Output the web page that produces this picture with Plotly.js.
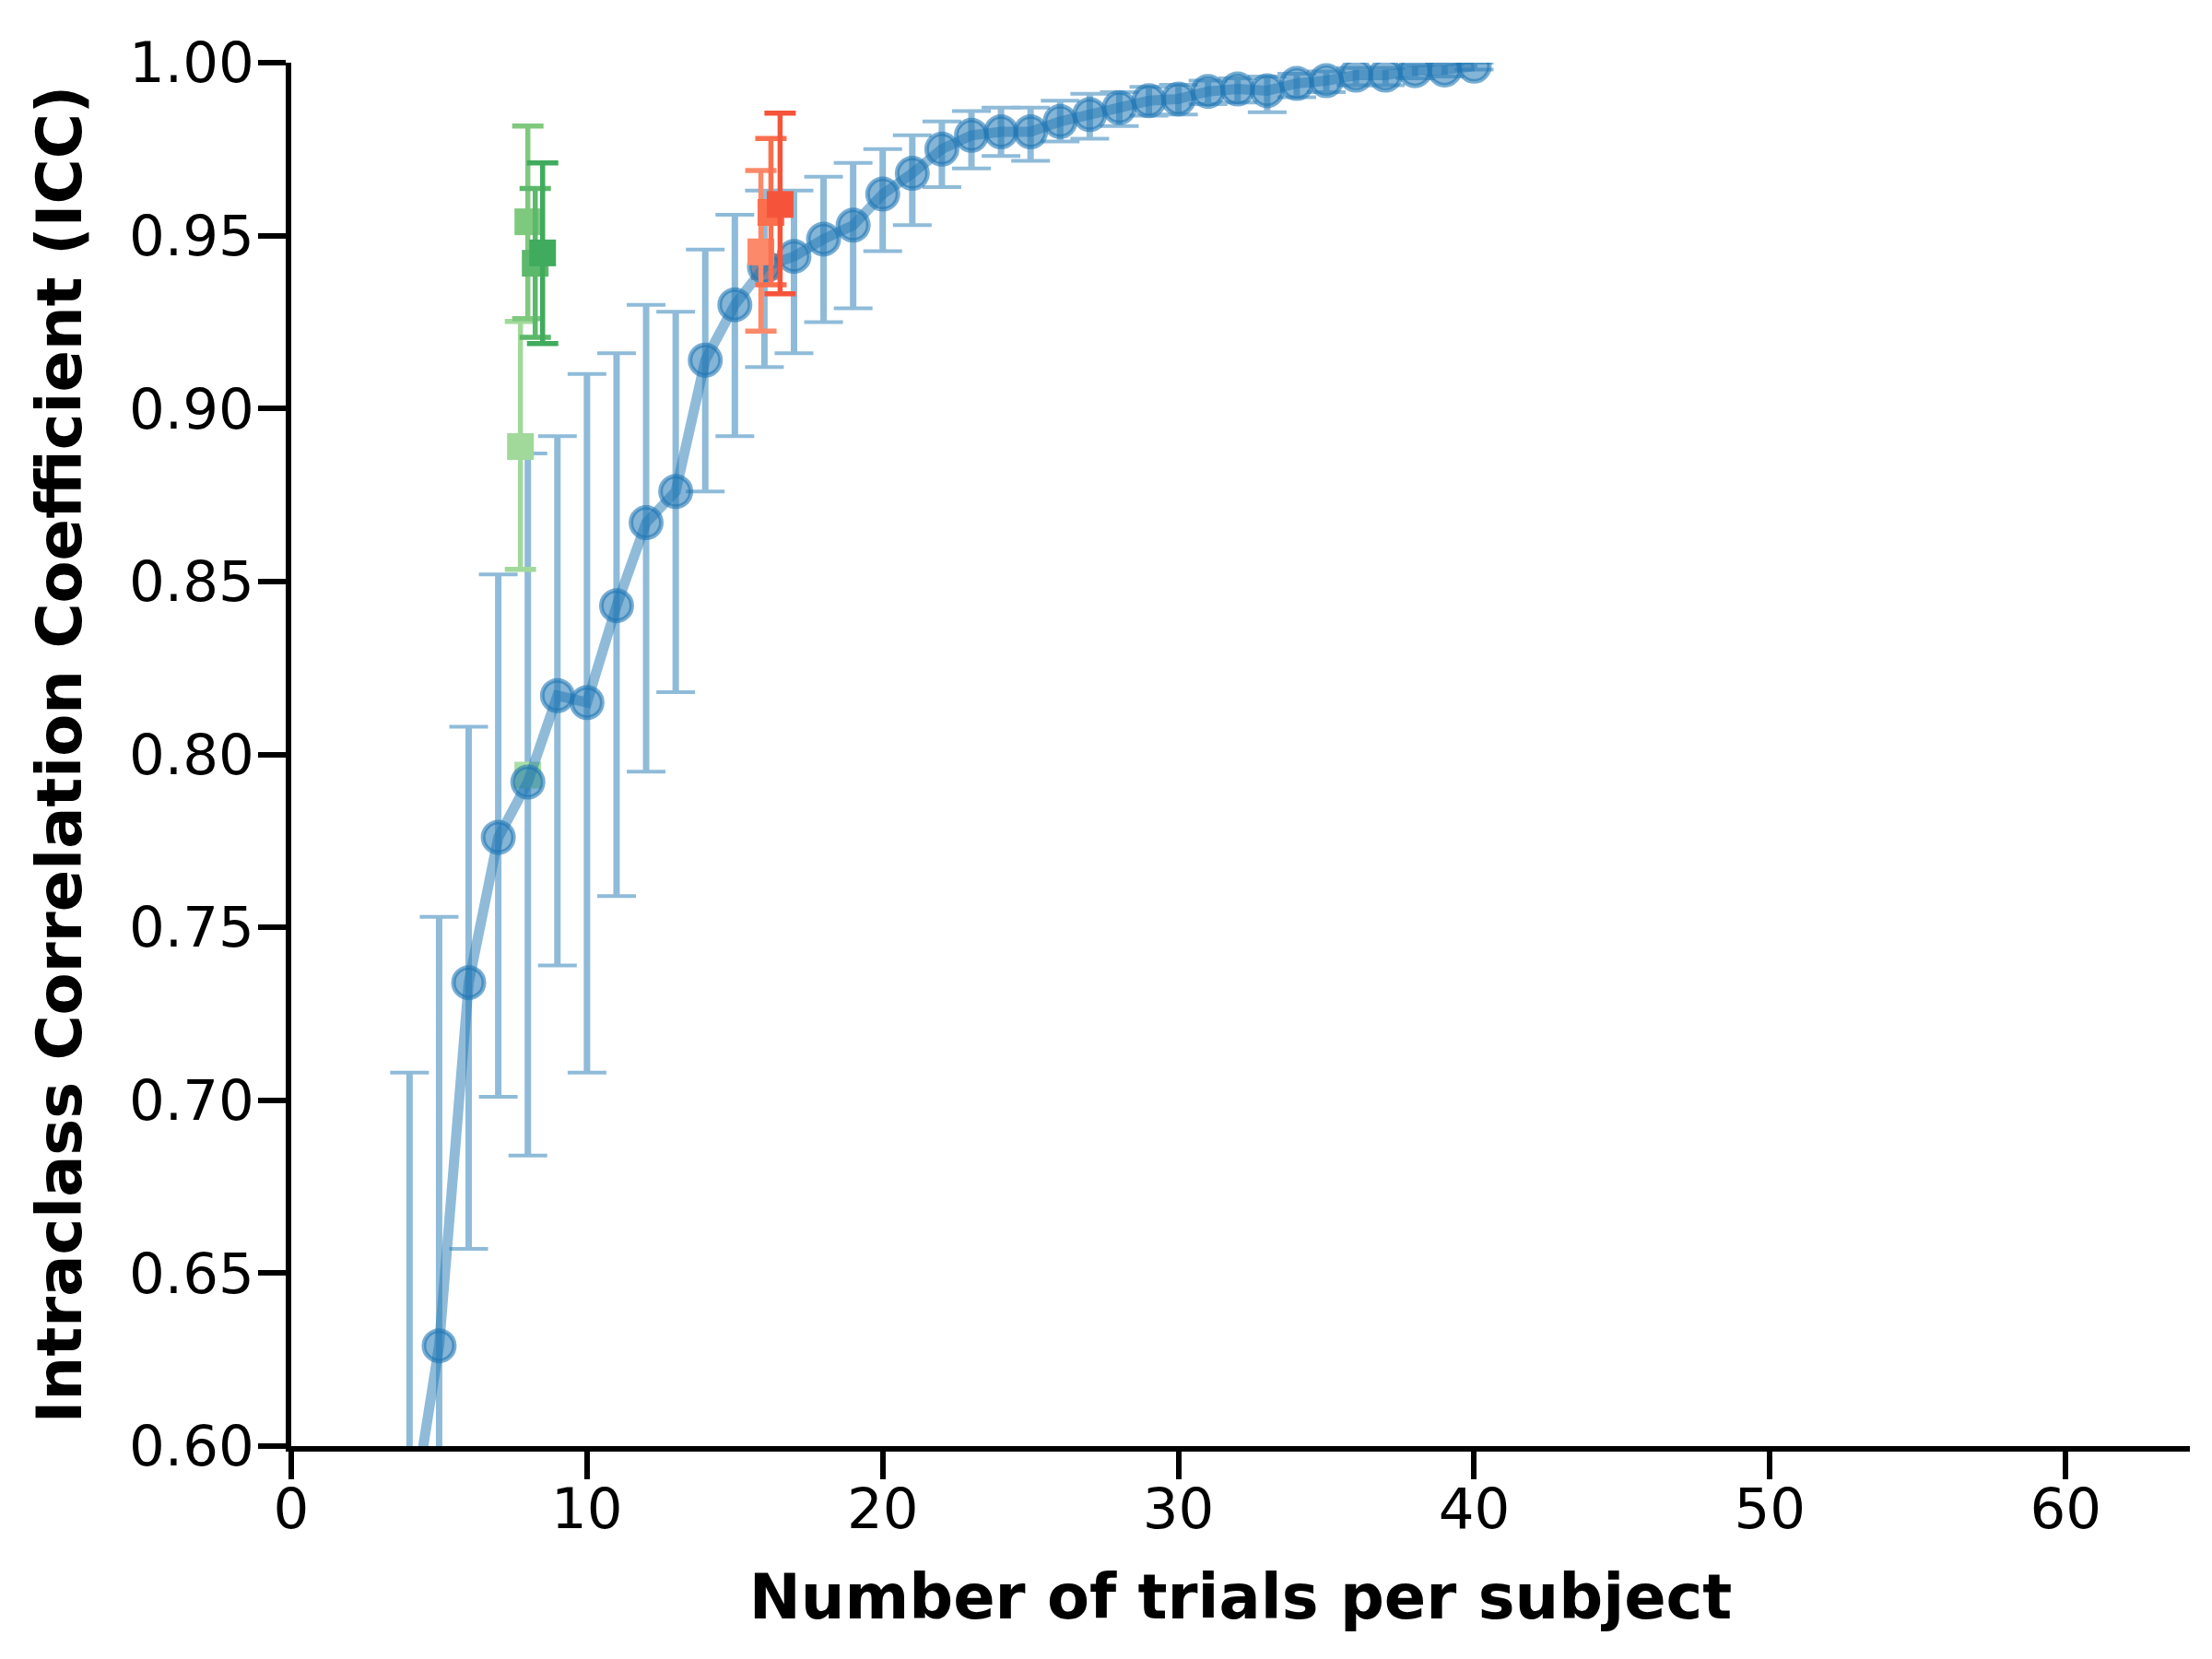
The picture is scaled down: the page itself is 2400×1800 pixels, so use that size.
<!DOCTYPE html>
<html>
<head>
<meta charset="utf-8">
<script src="https://cdn.plot.ly/plotly-3.0.1.min.js"></script>
<style>html,body{margin:0;padding:0;background:#ffffff;}</style>
</head>
<body>
<div id="chart" style="width:2400px;height:1800px;"></div>
<script>
// ---- data ----
const trials = [4,5,6,7,8,9,10,11,12,13,14,15,16,17,18,19,20,21,22,23,24,25,26,27,28,29,30,31,32,33,34,35,36,37,38,39,40];
const iccMean = [0.575,0.629,0.734,0.776,0.792,0.817,0.815,0.843,0.867,0.876,0.914,0.930,0.941,0.944,0.949,0.953,0.962,0.968,0.975,0.979,0.980,0.980,0.983,0.985,0.987,0.989,0.9895,0.9917,0.9924,0.9919,0.9940,0.9948,0.9964,0.9964,0.9977,0.9979,0.9990];
const iccUpper = [0.708,0.753,0.808,0.852,0.887,0.892,0.910,0.916,0.930,0.928,0.946,0.956,0.963,0.963,0.967,0.971,0.975,0.979,0.983,0.986,0.987,0.987,0.989,0.991,0.9915,0.9930,0.9936,0.9948,0.9955,0.9960,0.9968,0.9975,0.9985,0.9985,0.9993,0.9996,1.0000];
const iccLower = [0.442,0.506,0.657,0.701,0.684,0.739,0.708,0.759,0.795,0.818,0.876,0.892,0.912,0.916,0.925,0.929,0.9455,0.953,0.964,0.9694,0.973,0.9716,0.9772,0.978,0.9817,0.9847,0.9850,0.9880,0.9885,0.9857,0.9900,0.9915,0.9935,0.9935,0.9955,0.9960,0.9980];

const greenX = [7.75, 8.0, 8.25, 8.5];
const greenY = [0.889, 0.954, 0.942, 0.945];
const greenLower = [0.8535, 0.926, 0.9206, 0.9188];
const greenUpper = [0.9252, 0.9817, 0.9636, 0.971];
const greenColors = ['#a1d99b', '#7fc97f', '#5cb86b', '#41ab5d'];

const redX = [15.88, 16.22, 16.53];
const redY = [0.9453, 0.9567, 0.959];
const redLower = [0.9224, 0.9358, 0.9332];
const redUpper = [0.9688, 0.9781, 0.9854];
const redColors = ['#fc8a6a', '#fb6f4f', '#f5543b'];

const refX = [8.0, 16.0];
const refY = [0.794, 0.941];
const refColors = ['#aadea5', '#fc9a7c'];

const xTicks = [0,10,20,30,40,50,60];
const yTicks = [0.60,0.65,0.70,0.75,0.80,0.85,0.90,0.95,1.00];

// ---- traces ----
const plus = (hi, m) => hi.map((v,i) => v - m[i]);
const minus = (lo, m) => m.map((v,i) => v - lo[i]);

const blueBar = '#8fbbd9';
const traces = [];

// blue vertical error bars
traces.push({
  x: trials, y: iccMean, type: 'scatter', mode: 'markers',
  marker: {size: 1, color: 'rgba(0,0,0,0)'},
  error_y: {type: 'data', symmetric: false, array: plus(iccUpper, iccMean), arrayminus: minus(iccLower, iccMean),
            color: blueBar, thickness: 7, width: 0},
  hoverinfo: 'skip', showlegend: false
});
// blue caps
traces.push({
  x: trials, y: iccMean, type: 'scatter', mode: 'markers',
  marker: {size: 1, color: 'rgba(0,0,0,0)'},
  error_y: {type: 'data', symmetric: false, array: plus(iccUpper, iccMean), arrayminus: minus(iccLower, iccMean),
            color: blueBar, thickness: 4, width: 21},
  hoverinfo: 'skip', showlegend: false
});
// reference squares under the blue markers
refX.forEach((x, i) => {
  traces.push({
    x: [x], y: [refY[i]], type: 'scatter', mode: 'markers',
    marker: {symbol: 'square', size: 29, color: refColors[i]},
    showlegend: false
  });
});
// blue line + markers
traces.push({
  x: trials, y: iccMean, type: 'scatter', mode: 'lines+markers',
  line: {color: 'rgba(31,119,180,0.5)', width: 11},
  marker: {symbol: 'circle', size: 33, color: 'rgba(31,119,180,0.55)', line: {color: 'rgba(31,119,180,0.6)', width: 5}},
  showlegend: false
});
// green squares
greenX.forEach((x, i) => {
  traces.push({
    x: [x], y: [greenY[i]], type: 'scatter', mode: 'markers',
    marker: {symbol: 'square', size: 29, color: greenColors[i]},
    error_y: {type: 'data', symmetric: false, array: [greenUpper[i] - greenY[i]], arrayminus: [greenY[i] - greenLower[i]],
              color: greenColors[i], thickness: 5.5, width: 17},
    showlegend: false
  });
});
// red squares
redX.forEach((x, i) => {
  traces.push({
    x: [x], y: [redY[i]], type: 'scatter', mode: 'markers',
    marker: {symbol: 'square', size: 29, color: redColors[i]},
    error_y: {type: 'data', symmetric: false, array: [redUpper[i] - redY[i]], arrayminus: [redY[i] - redLower[i]],
              color: redColors[i], thickness: 5.5, width: 17},
    showlegend: false
  });
});

const tickFont = {family: 'DejaVu Sans', size: 61, color: '#000000'};
const titleFont = {family: 'DejaVu Sans', size: 67, color: '#000000', weight: 'bold'};

const layout = {
  width: 2400, height: 1800,
  margin: {l: 316, r: 24, t: 68, b: 231, pad: 0},
  paper_bgcolor: '#ffffff', plot_bgcolor: '#ffffff',
  showlegend: false,
  xaxis: {
    range: [0, 64.2], tickvals: xTicks, ticktext: xTicks.map(String),
    showline: true, linecolor: '#000000', linewidth: 6, mirror: false,
    ticks: 'outside', ticklen: 30, tickwidth: 6, tickcolor: '#000000',
    ticklabelstandoff: -20,
    showgrid: false, zeroline: false, tickfont: tickFont,
    title: {text: 'Number of trials per subject', font: titleFont, standoff: 40}
  },
  yaxis: {
    range: [0.6, 1.0], tickvals: yTicks, ticktext: yTicks.map(v => v.toFixed(2)),
    showline: true, linecolor: '#000000', linewidth: 6, mirror: false,
    ticks: 'outside', ticklen: 30, tickwidth: 6, tickcolor: '#000000',
    ticklabelstandoff: -8,
    showgrid: false, zeroline: false, tickfont: tickFont,
    title: {text: 'Intraclass Correlation Coefficient (ICC)', font: titleFont, standoff: 32}
  }
};

Plotly.newPlot('chart', traces, layout, {staticPlot: true, displayModeBar: false});
</script>
</body>
</html>
